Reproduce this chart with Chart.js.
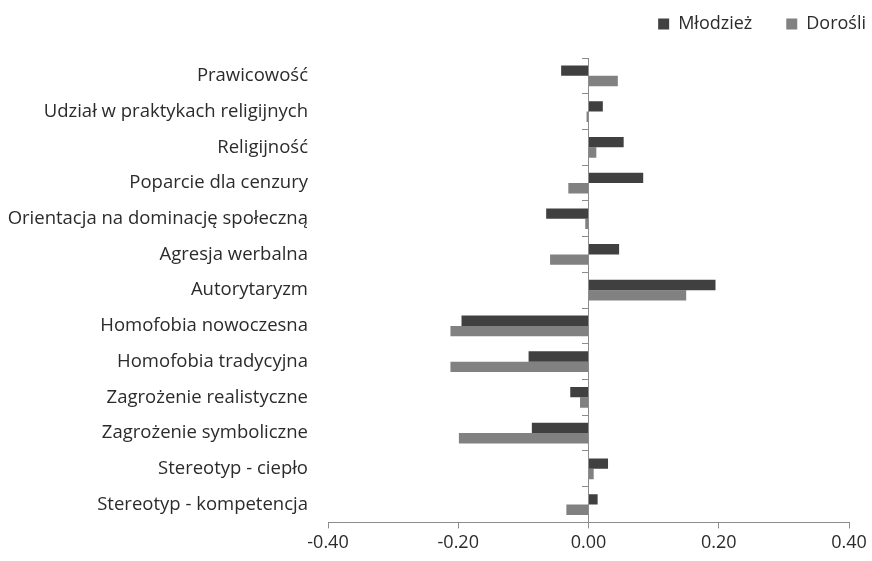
<!DOCTYPE html>
<html>
<head>
<meta charset="utf-8">
<script src="https://cdn.jsdelivr.net/npm/chart.js@4"></script>
<style>
  html, body { margin: 0; padding: 0; background: #fff; }
  #wrap { width: 872px; height: 561px; }
</style>
</head>
<body>
<div id="wrap"><canvas id="chart"></canvas></div>
<script>
// categories, top to bottom
const categories = [
  'Prawicowość',
  'Udział w praktykach religijnych',
  'Religijność',
  'Poparcie dla cenzury',
  'Orientacja na dominację społeczną',
  'Agresja werbalna',
  'Autorytaryzm',
  'Homofobia nowoczesna',
  'Homofobia tradycyjna',
  'Zagrożenie realistyczne',
  'Zagrożenie symboliczne',
  'Stereotyp - ciepło',
  'Stereotyp - kompetencja'
];
const mlodziez = [-0.042, 0.022, 0.054, 0.084, -0.065, 0.047, 0.195, -0.195, -0.092, -0.028, -0.087, 0.030, 0.014];
const dorosli  = [0.045, -0.003, 0.012, -0.031, -0.005, -0.059, 0.150, -0.212, -0.212, -0.013, -0.199, 0.008, -0.034];
const xTicks = [-0.40, -0.20, 0.00, 0.20, 0.40];

const font = { family: "'Open Sans', sans-serif", size: 18 };
const textColor = '#2b2b2b';
const axisColor = '#8c8c8c';

// legend sits in the top right corner, well above the plot
const legendPlacement = {
  id: 'legendPlacement',
  afterInit(chart) {
    const legend = chart.legend;
    const fit = legend.fit;
    const draw = legend.draw;
    legend.fit = function () { fit.call(this); this.height = 77; };
    legend.draw = function () {
      const dx = 51;
      this.left += dx; this.right += dx;
      draw.call(this);
      this.left -= dx; this.right -= dx;
    };
  }
};

new Chart(document.getElementById('chart'), {
  type: 'bar',
  data: {
    labels: categories,
    datasets: [
      { label: 'Młodzież', data: mlodziez, backgroundColor: '#404040',
        categoryPercentage: 0.58, barPercentage: 1.0 },
      { label: 'Dorośli', data: dorosli, backgroundColor: '#818181',
        categoryPercentage: 0.58, barPercentage: 1.0 }
    ]
  },
  plugins: [legendPlacement],
  options: {
    indexAxis: 'y',
    responsive: true,
    maintainAspectRatio: false,
    animation: false,
    layout: { padding: { top: -19, right: 23, bottom: 3, left: 0 } },
    plugins: {
      legend: {
        position: 'top',
        align: 'end',
        labels: { font: font, color: textColor, boxWidth: 11, boxHeight: 11, padding: 34 }
      },
      tooltip: { enabled: false }
    },
    scales: {
      x: {
        min: -0.4,
        max: 0.4,
        afterBuildTicks: (scale) => { scale.ticks = xTicks.map(v => ({ value: v })); },
        ticks: {
          font: font, color: textColor, padding: 4,
          callback: (v) => Number(v).toFixed(2)
        },
        grid: { drawOnChartArea: false, tickLength: 6, color: axisColor },
        border: { color: axisColor }
      },
      y: {
        position: 'left',
        afterFit: (scale) => { scale.width = 328; },
        ticks: { font: { family: font.family, size: 18.5 }, color: textColor, padding: 12 },
        grid: { display: false },
        border: { display: false }
      },
      y2: {
        type: 'category',
        axis: 'y',
        position: { x: 0 },
        offset: true,
        ticks: { display: false },
        grid: { drawOnChartArea: false, offset: true, tickLength: 6, color: axisColor },
        border: { color: axisColor }
      }
    }
  }
});
</script>
</body>
</html>
